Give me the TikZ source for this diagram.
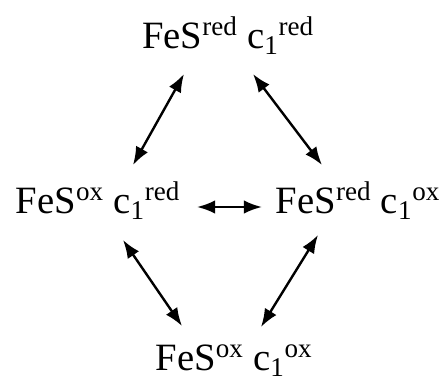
\documentclass[tikz,border=0pt]{standalone}
\usepackage{fontspec}
\setmainfont{Liberation Serif}
\usetikzlibrary{arrows.meta}

\begin{document}
\begin{tikzpicture}[x=0.75pt, y=-0.75pt, every node/.style={font=\fontsize{29}{33}\selectfont, anchor=base, inner sep=0pt}, >={Latex[length=4.8mm, width=3.6mm]}, link/.style={<->, line width=1.8pt}]
	\useasboundingbox (0,0) rectangle (447,382);
	\node (rr) at (228,48) {FeS\textsuperscript{red} c\textsubscript{1}\textsuperscript{red}};
	\node (or) at (98,213) {FeS\textsuperscript{ox} c\textsubscript{1}\textsuperscript{red}};
	\node (ro) at (358,213) {FeS\textsuperscript{red} c\textsubscript{1}\textsuperscript{ox}};
	\node (oo) at (234,370) {FeS\textsuperscript{ox} c\textsubscript{1}\textsuperscript{ox}};
	\draw[link] ([shift={(-44,26)}]rr.base) -- ([shift={(35,-48)}]or.base);
	\draw[link] ([shift={(25,26)}]rr.base) -- ([shift={(-36,-48)}]ro.base);
	\draw[link] ([shift={(99,-6)}]or.base) -- ([shift={(-96,-6)}]ro.base);
	\draw[link] ([shift={(25,27)}]or.base) -- ([shift={(-52,-44)}]oo.base);
	\draw[link] ([shift={(-40,22)}]ro.base) -- ([shift={(27,-43)}]oo.base);
\end{tikzpicture}
\end{document}
